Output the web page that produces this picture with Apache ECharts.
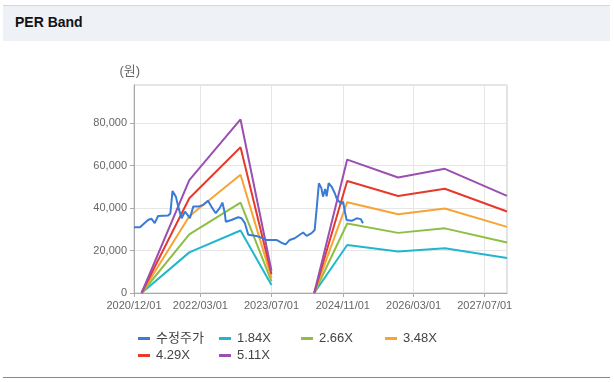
<!DOCTYPE html>
<html>
<head>
<meta charset="utf-8">
<script src="https://cdn.jsdelivr.net/npm/echarts@6/dist/echarts.min.js"></script>
<style>
  html, body { margin: 0; padding: 0; background: #fff; }
  #wrap { position: relative; width: 614px; height: 382px; overflow: hidden; background: #fff; }
  #head { position: absolute; left: 3px; top: 5px; width: 607px; height: 35px; background: #eef2f7; border-top: 1px solid #d3d7dd; }
  #head span { position: absolute; left: 12px; top: 8px; font: bold 14px 'Liberation Sans', 'Noto Sans CJK KR', sans-serif; color: #111; }
  #foot { position: absolute; left: 3px; top: 377px; width: 607px; height: 1px; background: #8a8a8a; }
  #chart { position: absolute; left: 0; top: 0; width: 614px; height: 382px; }
</style>
</head>
<body>
<div id="wrap">
  <div id="head"><span>PER Band</span></div>
  <div id="chart"></div>
  <div id="foot"></div>
</div>
<script>
// ---- data ----
const seriesNames = ['수정주가', '1.84X', '2.66X', '3.48X', '4.29X', '5.11X'];
const seriesColors = ['#3a7bd5', '#22b6cc', '#8dbf45', '#f8a434', '#e53a2b', '#9b4fb0'];
const xTickLabels = ['2020/12/01', '2022/03/01', '2023/07/01', '2024/11/01', '2026/03/01', '2027/07/01'];

const priceDates = [
  '2020-12-01','2021-01-11','2021-03-07','2021-03-30','2021-04-22','2021-05-15','2021-07-23','2021-08-07',
  '2021-08-22','2021-09-14','2021-09-30','2021-10-23','2021-11-15','2021-12-03','2021-12-19','2022-01-11',
  '2022-02-15','2022-03-19','2022-04-22','2022-05-15','2022-06-14','2022-07-11','2022-07-30','2022-08-15',
  '2022-08-22','2022-09-30','2022-11-15','2022-12-08','2022-12-31','2023-01-23','2023-03-20','2023-05-04',
  '2023-05-27','2023-08-04','2023-09-07','2023-10-06','2023-11-03','2023-12-07','2024-02-03','2024-02-27',
  '2024-04-01','2024-04-22','2024-05-07','2024-05-21','2024-06-07','2024-06-18','2024-07-03','2024-07-13',
  '2024-07-27','2024-08-16','2024-09-07','2024-09-19','2024-10-06','2024-10-22','2024-11-03','2024-11-15',
  '2024-11-27','2025-01-01','2025-02-04','2025-03-04','2025-03-19'
];
const priceValues = [
  31000, 31000, 34400, 35000, 32900, 36300, 36500, 37500,
  48100, 45400, 40700, 35200, 38300, 36800, 35200, 40700,
  40700, 41500, 43500, 40700, 37600, 40000, 42600, 37600,
  33600, 34400, 35700, 35200, 32900, 27400, 26900, 25800,
  25000, 25000, 23700, 22900, 25000, 25800, 28500, 26900,
  28200, 29700, 40700, 51700, 49400, 45400, 49000, 45500,
  51700, 50100, 47000, 44700, 43100, 42000, 43000, 38300,
  34400, 34000, 35200, 34800, 32900
];

const bandDates = ['2021-01-22','2021-12-15','2022-12-01','2023-07-01','2024-01-01',
                   '2024-04-19','2024-12-01','2025-11-15','2026-10-01','2027-12-01'];
const band184 = [0, 19140, 29440, 3770, null, 0, 22630, 19600, 21070, 16470];
const band266 = [0, 27660, 42560, 5450, null, 0, 32720, 28330, 30460, 23810];
const band348 = [0, 36190, 55680, 7130, null, 0, 42800, 37060, 39850, 31150];
const band429 = [0, 44620, 68640, 8790, null, 0, 52770, 45690, 49120, 38400];
const band511 = [0, 53140, 81760, 10480, null, 0, 62850, 54420, 58510, 45730];

// ---- build ----
function ts(s) { const p = s.split(/[\/-]/).map(Number); return new Date(p[0], p[1] - 1, p[2]).getTime(); }
function zip(dates, vals) {
  return dates.map((d, i) => [ts(d), vals[i] == null ? '-' : vals[i]]);
}
function pad(n) { return (n < 10 ? '0' : '') + n; }
function fmtDate(v) { const d = new Date(v); return d.getFullYear() + '/' + pad(d.getMonth() + 1) + '/' + pad(d.getDate()); }
const tickValues = xTickLabels.map(ts);
const font = "'Liberation Sans', 'Noto Sans CJK KR', sans-serif";

const allData = [
  zip(priceDates, priceValues),
  zip(bandDates, band184), zip(bandDates, band266), zip(bandDates, band348),
  zip(bandDates, band429), zip(bandDates, band511)
];

const legendPos = [[138, 332], [219, 332], [301, 332], [385, 332], [138, 349], [219, 349]];

const chart = echarts.init(document.getElementById('chart'), null, { renderer: 'canvas' });
chart.setOption({
  animation: false,
  textStyle: { fontFamily: font },
  grid: { left: 134, right: 107, top: 85, bottom: 89, show: true, borderColor: '#c8c8c8', borderWidth: 1 },
  legend: seriesNames.map((n, i) => ({
    data: [n], left: legendPos[i][0], top: legendPos[i][1], padding: 0,
    icon: 'rect', itemWidth: 12, itemHeight: 3, itemGap: 4,
    textStyle: { fontSize: 13, color: '#444', fontFamily: font, padding: [0, 0, 0, 1] }
  })),
  xAxis: {
    type: 'value',
    min: ts('2020/12/01'), max: ts('2027/12/01'),
    axisLine: { lineStyle: { color: '#aaa' } },
    axisTick: { show: true, length: 4, customValues: tickValues, lineStyle: { color: '#aaa' } },
    axisLabel: { customValues: tickValues, formatter: v => fmtDate(v), color: '#666', fontSize: 11, margin: 7, fontFamily: font },
    splitLine: { show: true, lineStyle: { color: '#e6e6e6' } }
  },
  yAxis: {
    type: 'value', min: 0, max: 98000, interval: 20000,
    name: '(원)', nameLocation: 'end', nameGap: 7,
    nameTextStyle: { color: '#666', fontSize: 13, align: 'right', padding: [0, -6, 0, 0], fontFamily: font },
    axisLine: { show: true, lineStyle: { color: '#aaa' } },
    axisTick: { show: true, length: 4, lineStyle: { color: '#aaa' } },
    axisLabel: { showMaxLabel: false, color: '#666', fontSize: 11, margin: 7, fontFamily: font,
      formatter: v => v.toString().replace(/\B(?=(\d{3})+(?!\d))/g, ',') },
    splitLine: { show: true, lineStyle: { color: '#e6e6e6' } }
  },
  series: seriesNames.map((n, i) => ({
    name: n, type: 'line', data: allData[i], showSymbol: false, symbol: 'none',
    connectNulls: false, z: i === 0 ? 3 : 2,
    lineStyle: { width: 2, color: seriesColors[i] }, itemStyle: { color: seriesColors[i] }
  }))
});
</script>
</body>
</html>
